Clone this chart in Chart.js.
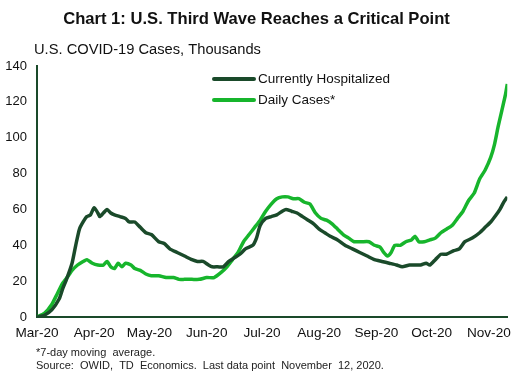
<!DOCTYPE html>
<html>
<head>
<meta charset="utf-8">
<script src="https://cdn.jsdelivr.net/npm/chart.js@4"></script>
<style>
  body { margin: 0; background: #fff; }
  #wrap { width: 519px; height: 387px; position: relative; }
</style>
</head>
<body>
<div id="wrap"><canvas id="covid-chart"></canvas></div>
<script>
// days counted from Mar 1, 2020
const monthDays = [0, 31, 61, 92, 122, 153, 184, 214, 245]
const monthLabels = ['Mar-20', 'Apr-20', 'May-20', 'Jun-20', 'Jul-20', 'Aug-20', 'Sep-20', 'Oct-20', 'Nov-20']

const hospDays = [0, 4, 8, 12, 14, 16, 19, 21, 23, 25, 27, 29, 31, 33, 34, 36, 38, 40, 42, 45, 48, 50, 53, 56, 59, 62, 66, 69, 72, 76, 80, 84, 87, 90, 93, 95, 98, 101, 104, 107, 110, 113, 117, 119, 121, 124, 127, 130, 133, 135, 138, 141, 144, 147, 150, 153, 156, 159, 163, 167, 171, 175, 179, 183, 187, 191, 195, 198, 202, 205, 208, 211, 213, 216, 219, 222, 226, 229, 232, 236, 240, 243, 246, 249, 251, 253, 255]
const hospValues = [0, 1, 4, 10, 16, 21, 30, 40, 49, 53, 56, 57, 61, 58, 56, 58, 60, 58, 57, 56, 55, 53, 53, 50, 47, 46, 42, 41, 38, 36, 34, 32, 31, 31, 29, 28, 28, 28, 31, 33, 35, 38, 40, 44, 51, 55, 56, 57, 59, 60, 59, 58, 56, 54, 52, 49, 47, 45, 43, 40, 38, 36, 34, 32, 31, 30, 29, 28, 29, 29, 29, 30, 29, 32, 35, 35, 37, 38, 42, 44, 47, 50, 53, 57, 60, 64, 67]

const caseDays = [0, 4, 8, 11, 14, 17, 19, 22, 25, 27, 30, 33, 36, 38, 40, 42, 44, 46, 48, 51, 53, 56, 59, 62, 66, 70, 74, 77, 80, 84, 88, 92, 96, 100, 103, 106, 109, 112, 115, 118, 121, 124, 127, 130, 133, 136, 139, 142, 145, 148, 151, 154, 157, 160, 163, 166, 169, 172, 176, 180, 183, 186, 188, 190, 192, 194, 197, 200, 203, 205, 207, 210, 213, 216, 219, 222, 225, 228, 231, 234, 237, 240, 243, 246, 248, 250, 252, 254, 255]
const caseValues = [0, 2, 7, 13, 19, 23, 26, 29, 31, 32, 30, 29, 29, 31, 28, 27, 30, 28, 30, 29, 27, 26, 24, 23, 23, 22, 22, 21, 21, 21, 21, 22, 22, 25, 28, 32, 36, 42, 46, 50, 54, 59, 63, 66, 67, 67, 66, 66, 64, 63, 58, 55, 54, 52, 49, 46, 44, 42, 42, 42, 40, 39, 36, 34, 36, 40, 40, 42, 43, 45, 42, 42, 43, 44, 47, 49, 51, 55, 59, 65, 69, 77, 82, 89, 96, 106, 115, 124, 130]

const darkGreen = '#1a4a2a'
const lightGreen = '#17b52c'
const font = 'Arial, "Liberation Sans", sans-serif'

function toPoints(days, values) {
  return days.map((d, i) => ({ x: d, y: values[i] }))
}

const extraText = {
  id: 'extraText',
  afterDraw(chart) {
    const c = chart.ctx
    c.save()
    c.fillStyle = '#111'
    c.textBaseline = 'middle'
    c.textAlign = 'left'
    c.font = '14.7px ' + font
    c.fillText('U.S. COVID-19 Cases, Thousands', 34, 50)

    // legend
    c.font = '13.5px ' + font
    chart.data.datasets.forEach((ds, i) => {
      const y = 79 + i * 21
      c.strokeStyle = ds.borderColor
      c.lineWidth = 4
      c.lineCap = 'round'
      c.beginPath()
      c.moveTo(214, y)
      c.lineTo(254, y)
      c.stroke()
      c.fillStyle = '#111'
      c.fillText(ds.label, 258, y)
    })

    c.font = '11px ' + font
    c.fillStyle = '#222'
    c.fillText('*7-day moving  average.', 36, 353)
    c.fillText('Source:  OWID,  TD  Economics.  Last data point  November  12, 2020.', 36, 366)
    c.restore()
  }
}

const ctx = document.getElementById('covid-chart').getContext('2d')

const covidChart = new Chart(ctx, {
  type: 'line',
  data: {
    datasets: [{
      label: 'Currently Hospitalized',
      data: toPoints(hospDays, hospValues),
      borderColor: darkGreen,
      borderWidth: 3.5,
      pointRadius: 0,
      tension: 0.2
    }, {
      label: 'Daily Cases*',
      data: toPoints(caseDays, caseValues),
      borderColor: lightGreen,
      borderWidth: 3.5,
      pointRadius: 0,
      tension: 0.2
    }]
  },
  options: {
    responsive: true,
    maintainAspectRatio: false,
    animation: false,
    layout: { padding: { top: 0, left: 0, right: 6, bottom: 0 } },
    plugins: {
      legend: { display: false },
      tooltip: { enabled: false },
      title: {
        display: true,
        text: 'Chart 1: U.S. Third Wave Reaches a Critical Point',
        color: '#111',
        font: { family: font, size: 16.6, weight: 'bold' },
        padding: { top: 9, bottom: 37.1 }
      }
    },
    scales: {
      x: {
        type: 'linear',
        min: 0,
        max: 255,
        grid: { display: false, drawTicks: false },
        border: { display: true, color: darkGreen, width: 2 },
        afterBuildTicks: (scale) => {
          scale.ticks = monthDays.map(v => ({ value: v }))
        },
        afterFit: (scale) => { scale.height = 70 },
        ticks: {
          padding: 8,
          maxRotation: 0,
          autoSkip: false,
          color: '#111',
          font: { family: font, size: 13.6 },
          callback: (v) => monthLabels[monthDays.indexOf(v)]
        }
      },
      y: {
        min: 0,
        max: 140,
        grid: { display: false, drawTicks: false },
        border: { display: true, color: darkGreen, width: 2 },
        afterFit: (scale) => { scale.width = 37 },
        ticks: {
          stepSize: 20,
          padding: 10,
          color: '#111',
          font: { family: font, size: 13 }
        }
      }
    }
  },
  plugins: [extraText]
})
</script>
</body>
</html>
